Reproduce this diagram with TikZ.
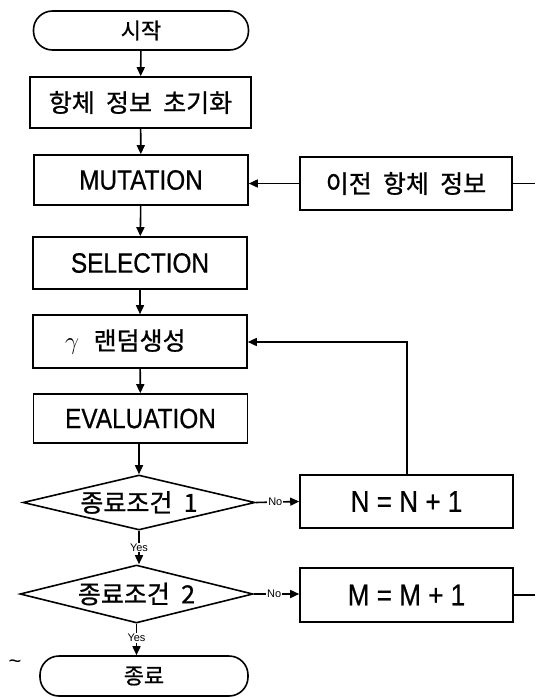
\documentclass[tikz,border=0pt]{standalone}
\usepackage{fontspec}
\setmainfont{Liberation Sans}
\newfontfamily\en[FakeStretch=0.87,FakeBold=0.6]{Liberation Sans}
\newfontfamily\kr[FakeBold=0.9]{Noto Sans CJK KR}
\usetikzlibrary{shapes.geometric,arrows.meta}
\tikzset{
  box/.style={draw, line width=1.6pt, minimum width=214pt, minimum height=51pt, inner sep=0pt, font=\en\fontsize{28}{30}\selectfont},
  term/.style={box, rounded corners=19pt, minimum height=39pt},
  dia/.style={draw, diamond, line width=1.6pt, inner sep=0pt},
  ktext/.style={font=\kr\fontsize{25}{27}\selectfont},
  conn/.style={line width=1.6pt},
  arr/.style={conn, -{Triangle[length=9pt,width=8pt]}},
  lbl/.style={font=\fontsize{11}{12}\selectfont, fill=white, inner sep=1pt},
}
\begin{document}
\begin{tikzpicture}[x=1pt,y=-1pt]
\useasboundingbox (0,0) rectangle (535,698);
\node[term, minimum width=215pt] (start) at (141,30.5) {\kr\fontsize{22}{24}\selectfont 시작};
\node[box, minimum width=221pt] (init) at (140.5,102.5) {\kr\fontsize{25}{27}\selectfont 항체\ \ 정보\ \ 초기화};
\node[box, minimum height=50pt] (mut) at (141,180) {MUTATION};
\node[box, minimum width=212pt, minimum height=53pt] (prev) at (406,183.5) {\kr\fontsize{25}{27}\selectfont 이전\ \ 항체\ \ 정보};
\node[box, minimum height=52pt] (sel) at (140,263) {SELECTION};
\node[box, minimum height=53pt] (gam) at (140,341.5) {};
\node[anchor=west, inner sep=0pt, font=\fontsize{26}{28}\selectfont] (gtext) at (65,342) {$\gamma$\ \ {\kr\fontsize{25}{27}\selectfont 랜덤생성}};
\node[box, minimum height=49pt] (eva) at (140.5,418.5) {EVALUATION};
\node[dia, minimum width=232pt, minimum height=55pt] (d1) at (139,502.5) {};
\node[ktext] (d1t) at (d1) {종료조건\ \ 1};
\node[dia, minimum width=233pt, minimum height=58pt] (d2) at (136.5,594) {};
\node[ktext] (d2t) at (d2) {종료조건\ \ 2};
\node[term, minimum width=208pt, minimum height=40pt] (end) at (144,676) {\kr\fontsize{22}{24}\selectfont 종료};
\node[box, minimum width=213pt, minimum height=53pt, font=\en\fontsize{30}{32}\selectfont] (nbox) at (406.5,501.5) {N = N + 1};
\node[box, minimum width=213pt, minimum height=54pt, font=\en\fontsize{30}{32}\selectfont] (mbox) at (406.5,595) {M = M + 1};
\node[font=\fontsize{22}{22}\selectfont] (tilde) at (15,664) {\textasciitilde};
\coordinate (redge1) at (535,183.5);
\coordinate (redge2) at (535,595);
\coordinate (gin) at (407,342);
% vertical flow
\draw[arr] (start) -- (init);
\draw[arr] (init) -- (mut);
\draw[arr] (mut) -- (sel);
\draw[arr] (sel) -- (gam);
\draw[arr] (gam) -- (eva);
\draw[arr] (eva.south -| d1.north) -- (d1.north);
\draw[arr] (d1.south) -- node[lbl] {Yes} (d1.south |- d2.north);
\draw[arr] (d2.south) -- node[lbl, pos=0.45] {Yes} (d2.south |- end.north);
% side loops
\draw[arr] (prev.west) -- (prev.west -| mut.east);
\draw[conn] (prev.east) -- (redge1);
\draw[arr] (d1.east) -- node[lbl, pos=0.45] {No} (nbox.west);
\draw[arr] (d2.east) -- node[lbl, pos=0.45] {No} (d2.east -| mbox.west);
\draw[conn] (mbox.east |- redge2) -- (redge2);
\draw[arr] (gin |- nbox.north) -- (gin) -- (gin -| gam.east);
\end{tikzpicture}
\end{document}
